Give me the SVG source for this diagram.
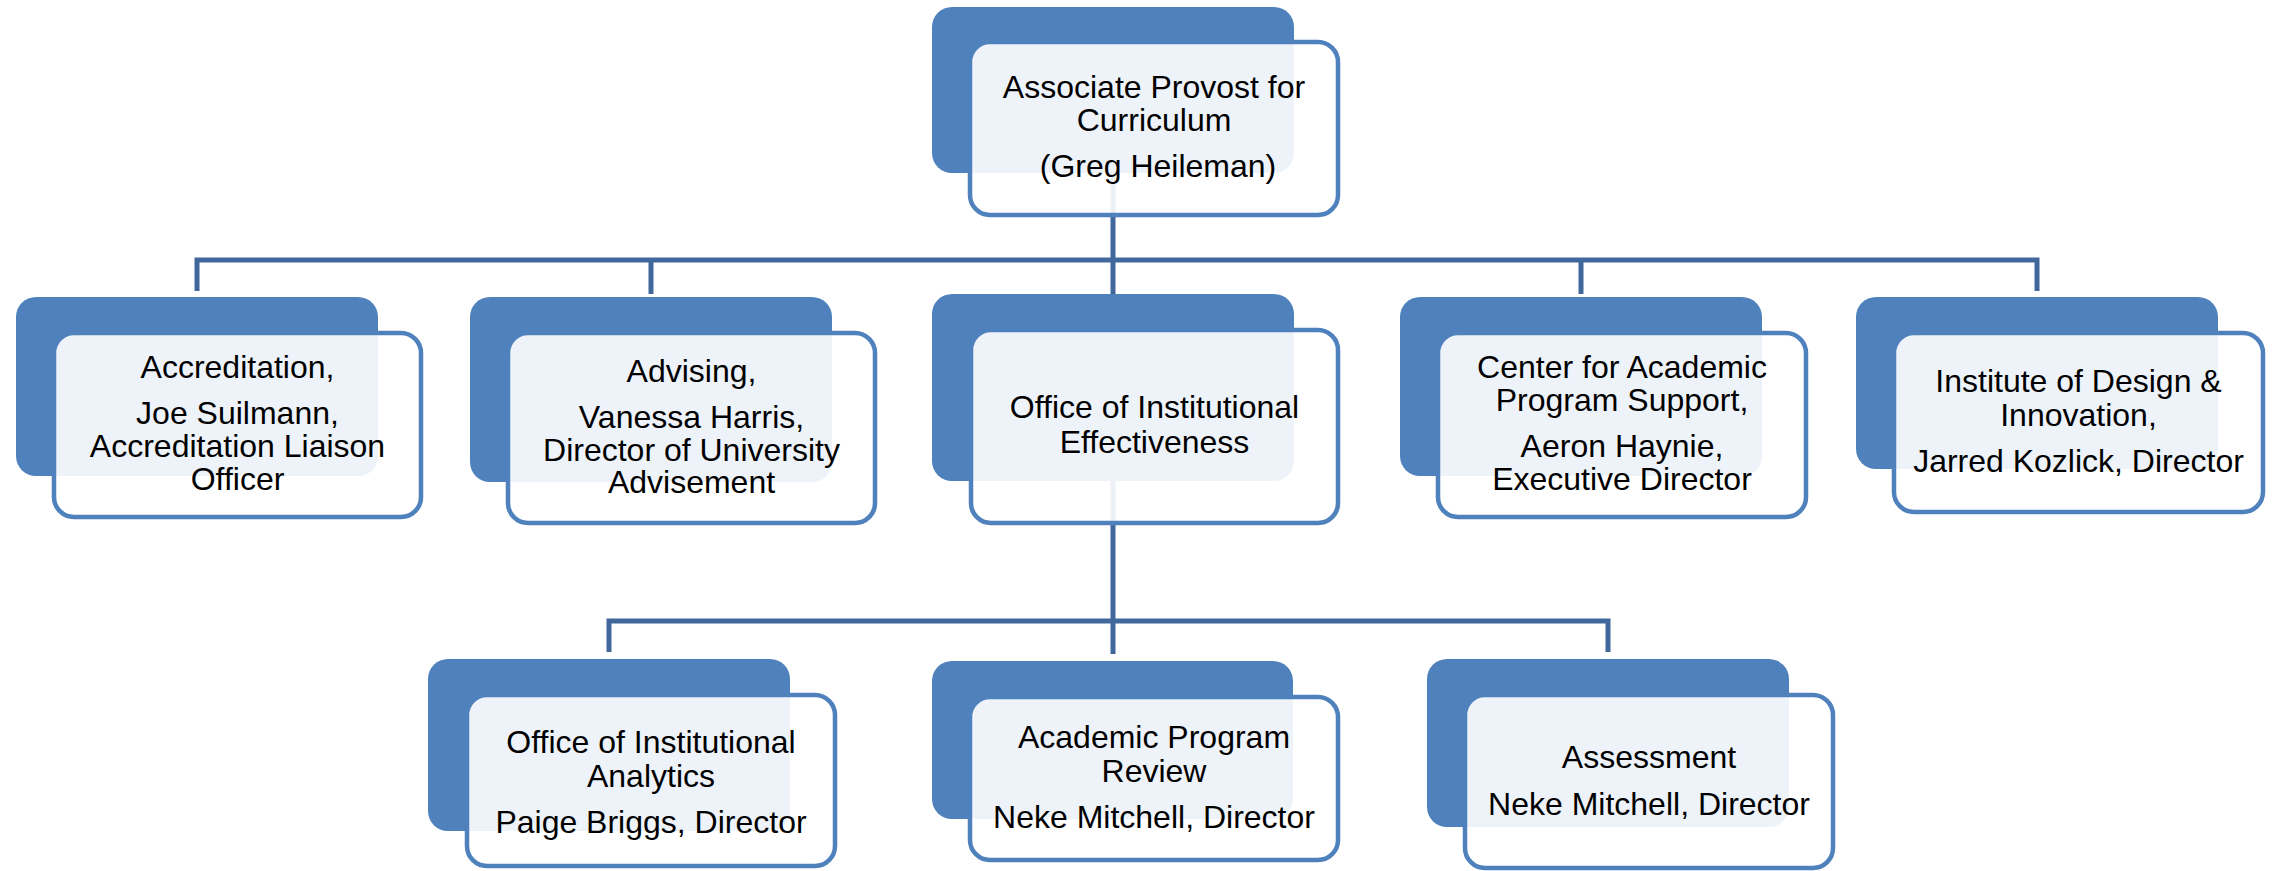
<svg xmlns="http://www.w3.org/2000/svg" width="2274" height="871" viewBox="0 0 2274 871">
<style>
.back{fill:#4F81BD}
.front{fill:#FFFFFF;fill-opacity:0.9;stroke:#4F81BD;stroke-width:4.5}
.conn{fill:none;stroke:#41689C;stroke-width:5}
text{font-family:"Liberation Sans",Arial,sans-serif;font-size:32px;fill:#000000;text-anchor:middle}
</style>
<rect width="2274" height="871" fill="#FFFFFF"/>
<g id="connectors">
<path class="conn" d="M1113,173 V260 M197,291 V260 H2037 V291 M651,260 V294 M1113,260 V294 M1581,260 V294"/>
<path class="conn" d="M1113,481 V621 M609,652 V621 H1608 V652 M1113,621 V654"/>
</g>
<g id="n-provost">
<rect class="back" x="932" y="7" width="362" height="166" rx="20"/>
<rect class="front" x="970" y="42" width="368" height="173" rx="20"/>
<text x="1154" y="98">Associate Provost for</text>
<text x="1154" y="131">Curriculum</text>
<text x="1158" y="177">(Greg Heileman)</text>
</g>
<g id="n-accreditation">
<rect class="back" x="16" y="297" width="362" height="179" rx="20"/>
<rect class="front" x="54" y="333" width="367" height="184" rx="20"/>
<text x="237.5" y="378">Accreditation,</text>
<text x="237.5" y="424">Joe Suilmann,</text>
<text x="237.5" y="457">Accreditation Liaison</text>
<text x="237.5" y="490">Officer</text>
</g>
<g id="n-advising">
<rect class="back" x="470" y="297" width="362" height="185" rx="20"/>
<rect class="front" x="508" y="333" width="367" height="190" rx="20"/>
<text x="691.5" y="382">Advising,</text>
<text x="691.5" y="428">Vanessa Harris,</text>
<text x="691.5" y="461">Director of University</text>
<text x="691.5" y="493">Advisement</text>
</g>
<g id="n-oie">
<rect class="back" x="932" y="294" width="362" height="187" rx="20"/>
<rect class="front" x="971" y="330" width="367" height="193" rx="20"/>
<text x="1154.5" y="418">Office of Institutional</text>
<text x="1154.5" y="453">Effectiveness</text>
</g>
<g id="n-center">
<rect class="back" x="1400" y="297" width="362" height="179" rx="20"/>
<rect class="front" x="1438" y="333" width="368" height="184" rx="20"/>
<text x="1622" y="378">Center for Academic</text>
<text x="1622" y="411">Program Support,</text>
<text x="1622" y="457">Aeron Haynie,</text>
<text x="1622" y="490">Executive Director</text>
</g>
<g id="n-idi">
<rect class="back" x="1856" y="297" width="362" height="172" rx="20"/>
<rect class="front" x="1894" y="333" width="369" height="179" rx="20"/>
<text x="2078.5" y="392">Institute of Design &amp;</text>
<text x="2078.5" y="426">Innovation,</text>
<text x="2078.5" y="472">Jarred Kozlick, Director</text>
</g>
<g id="n-oia">
<rect class="back" x="428" y="659" width="362" height="172" rx="20"/>
<rect class="front" x="467" y="695" width="368" height="171" rx="20"/>
<text x="651" y="753">Office of Institutional</text>
<text x="651" y="787">Analytics</text>
<text x="651" y="833">Paige Briggs, Director</text>
</g>
<g id="n-apr">
<rect class="back" x="932" y="661" width="361" height="158" rx="20"/>
<rect class="front" x="970" y="697" width="368" height="163" rx="20"/>
<text x="1154" y="748">Academic Program</text>
<text x="1154" y="782">Review</text>
<text x="1154" y="828">Neke Mitchell, Director</text>
</g>
<g id="n-assessment">
<rect class="back" x="1427" y="659" width="362" height="168" rx="20"/>
<rect class="front" x="1465" y="695" width="368" height="173" rx="20"/>
<text x="1649" y="768">Assessment</text>
<text x="1649" y="815">Neke Mitchell, Director</text>
</g>
</svg>
